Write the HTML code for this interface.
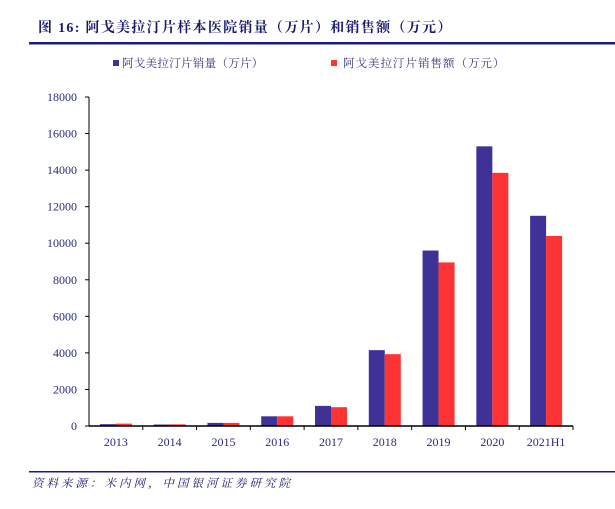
<!DOCTYPE html>
<html><head><meta charset="utf-8"><style>
body{margin:0;background:#fff;width:615px;height:504px;overflow:hidden;font-family:"Liberation Serif","Noto Serif CJK SC",serif;}
</style></head><body>
<svg width="615" height="504" id="svg">
<text x="38" y="32" font-size="14" font-weight="bold" fill="#1a1a6e" letter-spacing="1.3" font-family="Liberation Serif, Noto Serif CJK SC, serif">图 16:  阿戈美拉汀片样本医院销量（万片）和销售额（万元）</text>
<rect x="29" y="42" width="586" height="2.5" fill="#1a1a80"/>
<g>
<rect x="113" y="60" width="6" height="6" fill="#3e3296"/>
<text x="122" y="67" font-size="11.5" fill="#3a3a80" letter-spacing="0.3">阿戈美拉汀片销量（万片）</text>
<rect x="331" y="60" width="6" height="6" fill="#ff3333"/>
<text x="343" y="67" font-size="11.5" fill="#3a3a80" letter-spacing="1">阿戈美拉汀片销售额（万元）</text>
</g>
<g id="plot"></g>
<rect x="29" y="471" width="586" height="1.5" fill="#1a1a80"/>
<text x="32" y="487" font-size="11.5" font-style="italic" fill="#1a1a6e" letter-spacing="3">资料来源：米内网，中国银河证券研究院</text>
</svg>
<script>
const categories=["2013","2014","2015","2016","2017","2018","2019","2020","2021H1"];
const volume=[100,80,170,530,1100,4150,9600,15300,11500];
const sales=[130,90,170,530,1030,3930,8950,13850,10400];
const yTicks=[0,2000,4000,6000,8000,10000,12000,14000,16000,18000];
const NS="http://www.w3.org/2000/svg";
const g=document.getElementById('plot');
const x0=89,x1=573,yb=426,yt=97,ymax=18000;
const band=(x1-x0)/categories.length;
const y=v=>yb-(v/ymax)*(yb-yt);
const xc=i=>x0+band*(i+0.5);
function mk(t,a){const e=document.createElementNS(NS,t);for(const k in a)e.setAttribute(k,a[k]);g.appendChild(e);return e;}
let e;
e=mk('line',{x1:x0,y1:yt,x2:x0,y2:yb,stroke:'#000','stroke-width':1});


yTicks.forEach(v=>{
 let t=mk('line',{x1:x0-4,y1:y(v),x2:x0,y2:y(v),stroke:'#000'});
 
 
 let l=mk('text',{x:x0-12,y:y(v)+4,'font-size':12,fill:'#2a2a80','text-anchor':'end'});
 l.textContent=v;
 
 
});
categories.forEach((c,i)=>{
 const bw=16;
 let b1=mk('rect',{x:xc(i)-bw,y:y(volume[i]),width:bw,height:yb-y(volume[i]),fill:'#3e3296'});
 
 
 let b2=mk('rect',{x:xc(i),y:y(sales[i]),width:bw,height:yb-y(sales[i]),fill:'#ff3333'});
 
 
 let l=mk('text',{x:xc(i),y:yb+20,'font-size':12,fill:'#2a2a80','text-anchor':'middle'});
 l.textContent=c;
 
 
 let t=mk('line',{x1:x0+band*(i+1),y1:yb,x2:x0+band*(i+1),y2:yb+4,stroke:'#000'});
 
 
});
e=mk('line',{x1:x0,y1:yb,x2:x1,y2:yb,stroke:'#000','stroke-width':1.5});


</script>
</body></html>
